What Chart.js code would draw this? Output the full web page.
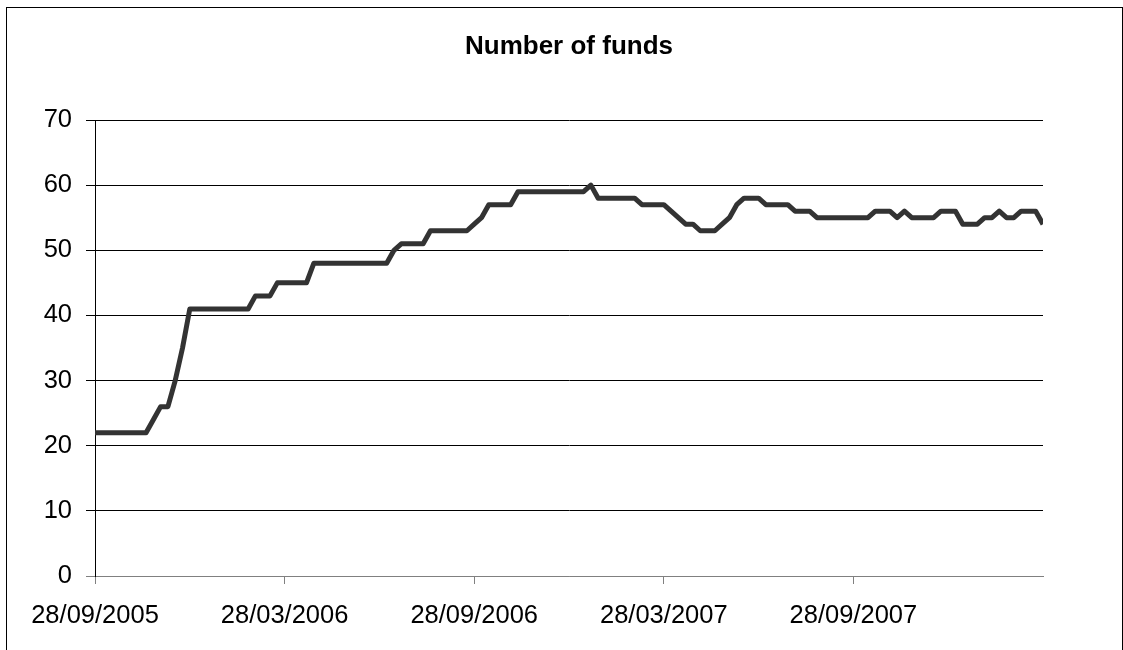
<!DOCTYPE html>
<html>
<head>
<meta charset="utf-8">
<script src="https://cdn.jsdelivr.net/npm/chart.js@4.4.0/dist/chart.umd.min.js"></script>
<style>
  html, body { margin: 0; padding: 0; background: #fff; overflow: hidden; }
  #wrap { position: relative; width: 1123px; height: 650px; overflow: hidden; }
  #frame { position: absolute; left: 6px; top: 7px; width: 1117px; height: 720px; border: 1px solid #000; box-sizing: border-box; pointer-events: none; }
  #c { position: absolute; left: 0; top: 0; }
</style>
</head>
<body>
<div id="wrap">
  <canvas id="c" width="1123" height="650"></canvas>
  <div id="frame"></div>
</div>
<script>
const titleText = 'Number of funds';
const tickLabels = ['28/09/2005', '28/03/2006', '28/09/2006', '28/03/2007', '28/09/2007'];
const yMin = 0, yMax = 70, yStep = 10;
const fundCounts = [
  22,22,22,22,22,22,22,22, 24, 26,26, 30, 35,
  41,41,41,41,41,41,41,41,41, 43,43,43, 45,45,45,45,45,
  48,48,48,48,48,48,48,48,48,48,48, 50, 51,51,51,51,
  53,53,53,53,53,53, 54, 55, 57,57,57,57,
  59,59,59,59,59,59,59,59,59,59, 60, 58,58,58,58,58,58,
  57,57,57,57, 56, 55, 54,54, 53,53,53, 54, 55, 57, 58,58,58,
  57,57,57,57, 56,56,56, 55,55,55,55,55,55,55,55, 56,56,56, 55, 56,
  55,55,55,55, 56,56,56, 54,54,54, 55,55, 56, 55,55, 56,56,56, 54
];
const categories = fundCounts.map((_, i) => i); // observation index (weekly)
const labelEvery = 26;

const FONT = '"Liberation Sans", Arial, sans-serif';

const titlePlugin = {
  id: 'plotTitle',
  afterDraw(chart) {
    const { ctx, chartArea } = chart;
    ctx.save();
    ctx.font = 'bold 26px ' + FONT;
    ctx.fillStyle = '#000';
    ctx.textAlign = 'center';
    ctx.textBaseline = 'alphabetic';
    ctx.fillText(titleText, (chartArea.left + chartArea.right) / 2, 54);
    ctx.restore();
  }
};

new Chart(document.getElementById('c'), {
  type: 'line',
  data: {
    datasets: [{
      data: categories.map((x, i) => ({ x: x, y: fundCounts[i] })),
      borderColor: '#333333',
      borderWidth: 5,
      pointRadius: 0,
      tension: 0,
      fill: false,
      borderJoinStyle: 'round',
      borderCapStyle: 'butt'
    }]
  },
  options: {
    responsive: false,
    animation: false,
    devicePixelRatio: 1,
    layout: { padding: { top: 120, right: 80, bottom: 0, left: 0 } },
    plugins: { legend: { display: false }, tooltip: { enabled: false }, title: { display: false } },
    scales: {
      x: {
        type: 'linear',
        min: 0,
        max: categories.length - 1,
        afterFit(scale) { scale.height = 74; },
        ticks: {
          stepSize: labelEvery,
          autoSkip: false,
          maxRotation: 0,
          minRotation: 0,
          padding: 17,
          color: '#000',
          font: { family: FONT, size: 25.5 },
          callback: (v, i) => tickLabels[i] !== undefined ? tickLabels[i] : ''
        },
        grid: {
          drawOnChartArea: false,
          drawTicks: true,
          tickLength: 8,
          tickWidth: 1,
          tickColor: (ctx) => ctx.index < tickLabels.length ? '#808080' : 'rgba(0,0,0,0)'
        },
        border: { display: true, color: '#808080', width: 1 }
      },
      y: {
        min: yMin,
        max: yMax,
        afterFit(scale) { scale.width = 95; },
        ticks: {
          stepSize: yStep,
          padding: 14,
          color: '#000',
          font: { family: FONT, size: 25.5 }
        },
        grid: {
          color: (ctx) => ctx.index === 0 ? '#808080' : '#000',
          lineWidth: 1,
          tickLength: 9
        },
        border: { display: true, color: '#000', width: 1 }
      }
    }
  },
  plugins: [titlePlugin]
});
</script>
</body>
</html>
